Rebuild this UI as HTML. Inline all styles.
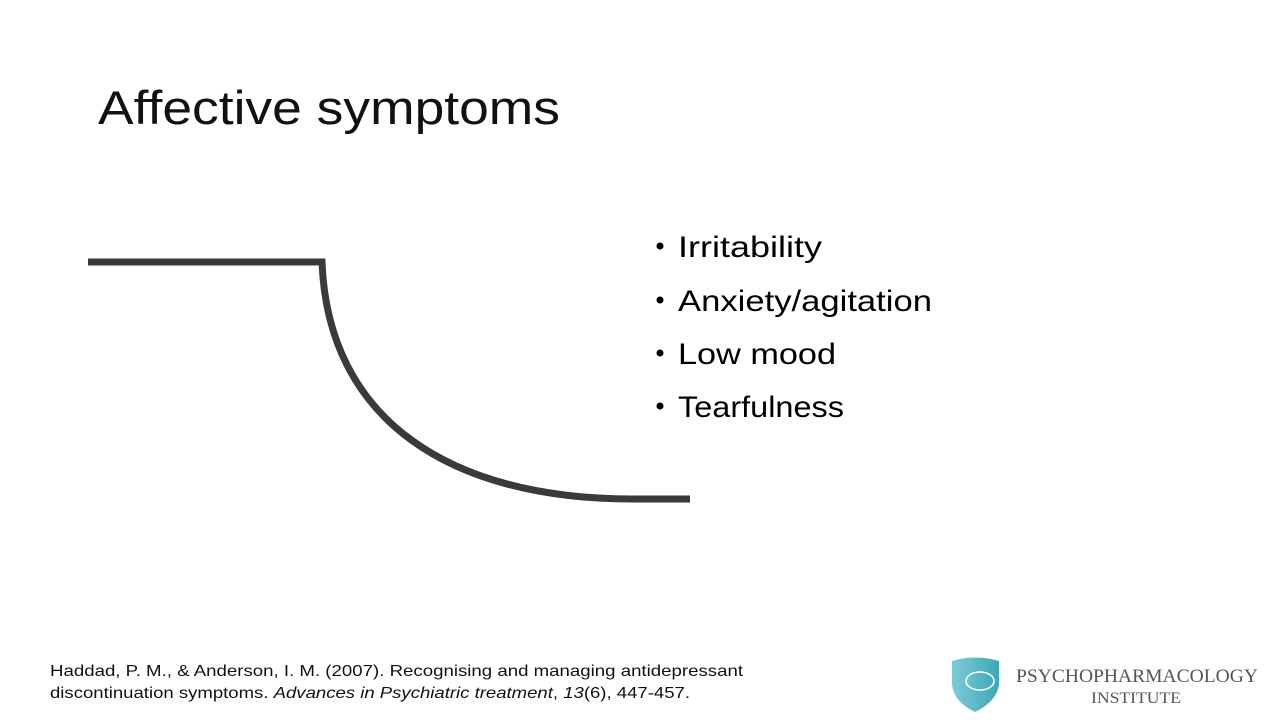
<!DOCTYPE html>
<html><head><style>
html,body{margin:0;padding:0;background:#fff;}
svg{display:block;}
</style></head><body>
<svg width="1280" height="720" viewBox="0 0 1280 720" xmlns="http://www.w3.org/2000/svg">
<rect width="1280" height="720" fill="#fff"/>
<text x="98" y="124" font-family="Liberation Sans, sans-serif" font-size="47" fill="#111" textLength="462" lengthAdjust="spacingAndGlyphs">Affective symptoms</text>
<path d="M88,262 H322 C328,420 450,499 632,499 H690" fill="none" stroke="#3a3a3a" stroke-width="7"/>
<g font-family="Liberation Sans, sans-serif" font-size="30" fill="#000">
<circle cx="660" cy="246" r="3.5"/><text x="678" y="257" textLength="144" lengthAdjust="spacingAndGlyphs">Irritability</text>
<circle cx="660" cy="300" r="3.5"/><text x="678" y="311" textLength="254" lengthAdjust="spacingAndGlyphs">Anxiety/agitation</text>
<circle cx="660" cy="353" r="3.5"/><text x="678" y="364" textLength="158" lengthAdjust="spacingAndGlyphs">Low mood</text>
<circle cx="660" cy="406" r="3.5"/><text x="678" y="417" textLength="166" lengthAdjust="spacingAndGlyphs">Tearfulness</text>
</g>
<g font-family="Liberation Sans, sans-serif" font-size="16" fill="#111">
<text x="50" y="676" textLength="693" lengthAdjust="spacingAndGlyphs">Haddad, P. M., &amp; Anderson, I. M. (2007). Recognising and managing antidepressant</text>
<text x="50" y="698" textLength="640" lengthAdjust="spacingAndGlyphs">discontinuation symptoms. <tspan font-style="italic">Advances in Psychiatric treatment</tspan>, <tspan font-style="italic">13</tspan>(6), 447-457.</text>
</g>
<defs><linearGradient id="g" x1="0" x2="1"><stop offset="0" stop-color="#7fcbd8"/><stop offset="1" stop-color="#3aa8b4"/></linearGradient></defs>
<path d="M952,661 Q975,654 999,661 L999,685 Q996,702 975,712 Q954,702 952,685 Z" fill="url(#g)"/>
<ellipse cx="980" cy="681" rx="14" ry="9" fill="none" stroke="#fff" stroke-width="1.5"/>
<g font-family="Liberation Serif, serif" fill="#555">
<text x="1016" y="682" font-size="19" textLength="242" lengthAdjust="spacingAndGlyphs">PSYCHOPHARMACOLOGY</text>
<text x="1091" y="703" font-size="16" textLength="90" lengthAdjust="spacingAndGlyphs">INSTITUTE</text>
</g>
</svg>
</body></html>
